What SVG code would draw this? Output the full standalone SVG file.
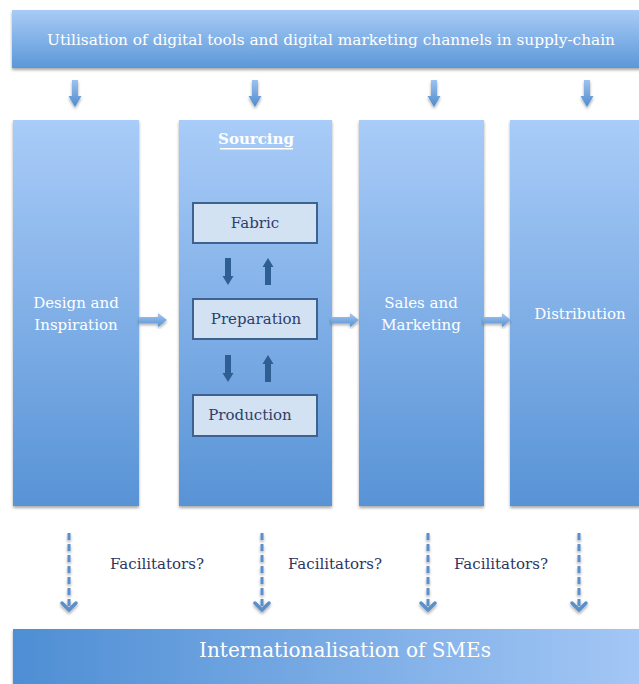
<svg xmlns="http://www.w3.org/2000/svg" width="639" height="684" viewBox="0 0 639 684">
<defs>
<linearGradient id="gTop" x1="0" y1="0" x2="0" y2="1"><stop offset="0" stop-color="#a9cbf6"/><stop offset="1" stop-color="#5b98d8"/></linearGradient>
<linearGradient id="gCol" x1="0" y1="0" x2="0" y2="1"><stop offset="0" stop-color="#a9ccf8"/><stop offset="1" stop-color="#5893d6"/></linearGradient>
<linearGradient id="gBot" x1="0" y1="0" x2="1" y2="0"><stop offset="0" stop-color="#4e8ed4"/><stop offset="1" stop-color="#a5c8f6"/></linearGradient>
<linearGradient id="gArr" x1="0" y1="0" x2="0" y2="1"><stop offset="0" stop-color="#9cc2ef"/><stop offset="1" stop-color="#4f8bcf"/></linearGradient>
<linearGradient id="gArrH" x1="0" y1="0" x2="0" y2="1"><stop offset="0" stop-color="#a6c9f2"/><stop offset="1" stop-color="#5590d2"/></linearGradient>
<filter id="sh" x="-10%" y="-10%" width="120%" height="120%"><feDropShadow dx="0" dy="2" stdDeviation="1.5" flood-color="#000" flood-opacity="0.35"/></filter>
<path id="downA" d="M-3,0 H3 V16 H6.5 L0,27 L-6.5,16 H-3 Z"/>
<path id="rightA" d="M0,-3 H19 V-7 L28,0 L19,7 V3 H0 Z"/>
<path id="dkDown" d="M-3,0 H3 V18 H5.5 L0,27 L-5.5,18 H-3 Z"/>
<path id="dkUp" d="M-3,27 H3 V9 H5.5 L0,0 L-5.5,9 H-3 Z"/>
</defs>
<style>
.wt{fill:#fff;font-family:"DejaVu Serif","Liberation Serif",serif;}
.bx{fill:#d3e2f3;stroke:#3d6290;stroke-width:2;}
.bt{fill:#2c3e6b;font-family:"DejaVu Serif","Liberation Serif",serif;font-size:15px;text-anchor:middle;}
.ft{fill:#2c3560;font-family:"DejaVu Serif","Liberation Serif",serif;font-size:15px;text-anchor:middle;}
.dash{stroke:#5a8fcb;stroke-width:3;fill:none;stroke-dasharray:7 4;}
.head{stroke:#5a8fcb;stroke-width:3.5;fill:none;stroke-linecap:round;stroke-linejoin:round;}
</style>
<rect width="639" height="684" fill="#fff"/>

<g id="top-banner">
<rect x="12" y="10" width="640" height="58" fill="url(#gTop)" filter="url(#sh)"/>
<text class="wt" x="331" y="45" font-size="14" text-anchor="middle" textLength="568" lengthAdjust="spacingAndGlyphs">Utilisation of digital tools and digital marketing channels in supply-chain</text>
</g>

<g id="design">
<rect x="13" y="120" width="126" height="386" fill="url(#gCol)" filter="url(#sh)"/>
<text class="wt" x="76" y="308" font-size="15" text-anchor="middle">Design and</text>
<text class="wt" x="76" y="330" font-size="15" text-anchor="middle">Inspiration</text>
</g>

<g id="sourcing">
<rect x="179" y="120" width="153" height="386" fill="url(#gCol)" filter="url(#sh)"/>
<text class="wt" x="256" y="144" font-size="15" font-weight="bold" text-anchor="middle">Sourcing</text>
<rect x="220" y="148" width="73" height="1.5" fill="#fff"/>
</g>

<g id="fabric">
<rect class="bx" x="193" y="203" width="124" height="40"/>
<text class="bt" x="255" y="228">Fabric</text>
</g>
<g id="preparation">
<rect class="bx" x="193" y="299" width="124" height="40"/>
<text class="bt" x="256" y="324">Preparation</text>
</g>
<g id="production">
<rect class="bx" x="193" y="395" width="124" height="41"/>
<text class="bt" x="250" y="420">Production</text>
</g>

<g id="sales">
<rect x="359" y="120" width="125" height="386" fill="url(#gCol)" filter="url(#sh)"/>
<text class="wt" x="421" y="308" font-size="15" text-anchor="middle">Sales and</text>
<text class="wt" x="421" y="330" font-size="15" text-anchor="middle">Marketing</text>
</g>

<g id="distribution">
<rect x="510" y="120" width="140" height="386" fill="url(#gCol)" filter="url(#sh)"/>
<text class="wt" x="580" y="319" font-size="15" text-anchor="middle">Distribution</text>
</g>

<g id="bottom-banner">
<rect x="13" y="629" width="640" height="60" fill="url(#gBot)" filter="url(#sh)"/>
<text class="wt" x="345" y="657" font-size="20" text-anchor="middle">Internationalisation of SMEs</text>
</g>

<g id="connectors">
<g fill="url(#gArr)" filter="url(#sh)">
<use href="#downA" x="75" y="80"/>
<use href="#downA" x="255" y="80"/>
<use href="#downA" x="434" y="80"/>
<use href="#downA" x="587" y="80"/>
</g>
<g fill="url(#gArrH)" filter="url(#sh)">
<use href="#rightA" x="139" y="320"/>
<use href="#rightA" x="331" y="320"/>
<use href="#rightA" x="483" y="320"/>
</g>
<g fill="#2f5e93">
<use href="#dkDown" x="228" y="258"/>
<use href="#dkUp" x="268" y="258"/>
<use href="#dkDown" x="228" y="355"/>
<use href="#dkUp" x="268" y="355"/>
</g>
<g filter="url(#sh)">
<line class="dash" x1="69" y1="533" x2="69" y2="609"/>
<polyline class="head" points="62,603 69,610 76,603"/>
<line class="dash" x1="262" y1="533" x2="262" y2="609"/>
<polyline class="head" points="255,603 262,610 269,603"/>
<line class="dash" x1="428" y1="533" x2="428" y2="609"/>
<polyline class="head" points="421,603 428,610 435,603"/>
<line class="dash" x1="579" y1="533" x2="579" y2="609"/>
<polyline class="head" points="572,603 579,610 586,603"/>
</g>
<text class="ft" x="157" y="569">Facilitators?</text>
<text class="ft" x="335" y="569">Facilitators?</text>
<text class="ft" x="501" y="569">Facilitators?</text>
</g>
</svg>
